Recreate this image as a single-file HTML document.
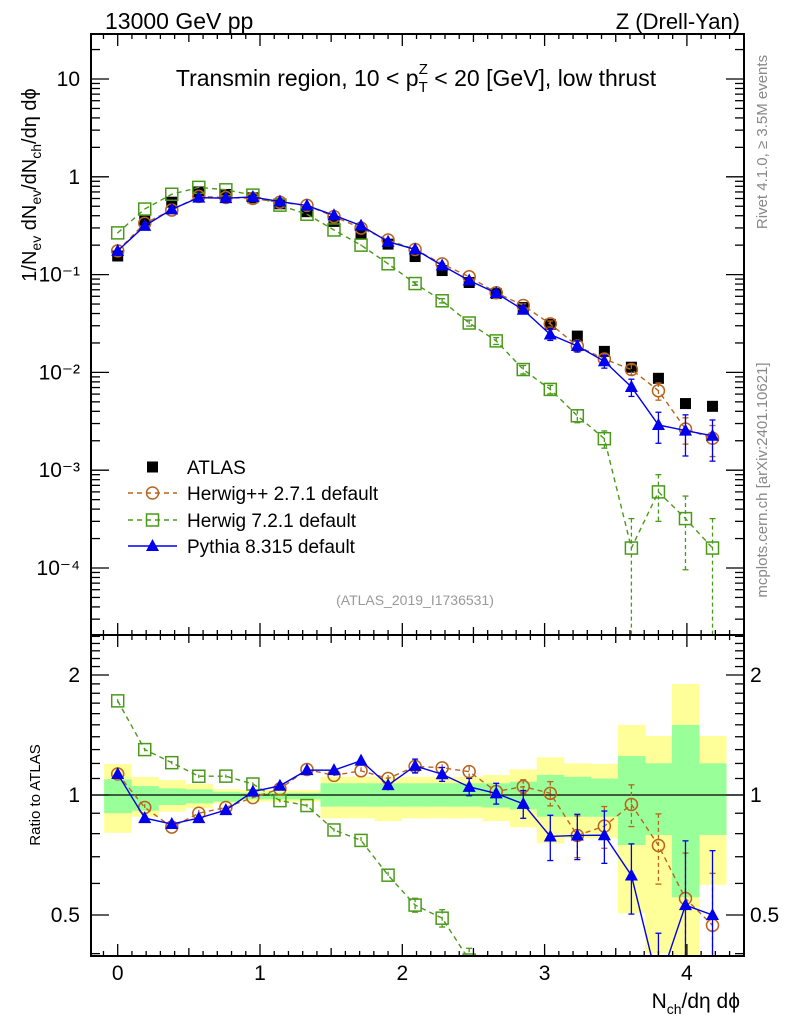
<!DOCTYPE html>
<html><head><meta charset="utf-8">
<style>
html,body{margin:0;padding:0;background:#fff;width:786px;height:1024px;overflow:hidden;}
svg{display:block;font-family:"Liberation Sans",sans-serif;overflow:hidden;}
</style></head>
<body>
<svg id="c" width="786" height="1024" viewBox="0 0 786 1024" xmlns="http://www.w3.org/2000/svg">
<defs>
<clipPath id="clipMain"><rect x="91" y="34" width="653" height="601"/></clipPath>
<clipPath id="clipRat"><rect x="91" y="635" width="653" height="321"/></clipPath>
</defs>
<g id="bands" clip-path="url(#clipRat)"></g>
<line x1="91" x2="744" y1="795" y2="795" stroke="#000" stroke-width="1.2"/>
<g id="series"></g>
<g id="axes"></g>
<text x="105" y="29" font-size="23">13000 GeV pp</text>
<text x="740" y="29" font-size="22" text-anchor="end">Z (Drell-Yan)</text>
<text x="416" y="86" font-size="23" text-anchor="middle">Transmin region, 10 &lt; p<tspan font-size="15" dy="6">T</tspan><tspan font-size="15" dx="-9" dy="-18">Z</tspan><tspan dy="12"> &lt; 20 [GeV], low thrust</tspan></text>
<text transform="translate(36,185) rotate(-90)" font-size="20" text-anchor="middle">1/N<tspan font-size="14" dy="5">ev</tspan><tspan dy="-5"> dN</tspan><tspan font-size="14" dy="5">ev</tspan><tspan dy="-5">/dN</tspan><tspan font-size="14" dy="5">ch</tspan><tspan dy="-5">/dη dϕ</tspan></text>
<text transform="translate(40,795) rotate(-90)" font-size="15" text-anchor="middle">Ratio to ATLAS</text>
<text x="740" y="1008" font-size="21" text-anchor="end">N<tspan font-size="14" dy="6">ch</tspan><tspan dy="-6">/dη dϕ</tspan></text>
<text transform="translate(767,142) rotate(-90)" font-size="15" fill="#888" text-anchor="middle">Rivet 4.1.0, ≥ 3.5M events</text>
<text transform="translate(767,480) rotate(-90)" font-size="15" fill="#888" text-anchor="middle">mcplots.cern.ch [arXiv:2401.10621]</text>
<text x="415" y="605" font-size="14" fill="#999" text-anchor="middle">(ATLAS_2019_I1736531)</text>
<g id="legend"></g>
</svg>
<script>
const xs=[0,0.19,0.38,0.57,0.76,0.95,1.14,1.33,1.52,1.71,1.90,2.09,2.28,2.47,2.66,2.85,3.04,3.23,3.42,3.61,3.80,3.99,4.18];
const atlas=[0.155,0.36,0.55,0.70,0.66,0.61,0.53,0.44,0.35,0.26,0.205,0.153,0.11,0.083,0.064,0.046,0.031,0.0235,0.0164,0.0113,0.0087,0.0048,0.0045];
const herwigpp=[0.175,0.335,0.457,0.63,0.614,0.601,0.549,0.510,0.392,0.299,0.2255,0.1805,0.1287,0.095,0.0653,0.0483,0.0313,0.0186,0.0137,0.0107,0.0065,0.00264,0.00212];
const herwig7=[0.267,0.468,0.663,0.78,0.736,0.65,0.513,0.414,0.286,0.20,0.129,0.081,0.054,0.032,0.021,0.0107,0.0067,0.0036,0.0021,0.00016,0.0006,0.00032,0.00016];
const pythia=[0.175,0.315,0.465,0.6125,0.605,0.622,0.559,0.508,0.404,0.317,0.217,0.181,0.124,0.087,0.0646,0.0437,0.0244,0.0186,0.0130,0.0071,0.0029,0.00254,0.00225];
const errHpp=[0.02,0.02,0.02,0.02,0.02,0.02,0.02,0.02,0.02,0.02,0.02,0.02,0.02,0.03,0.03,0.04,0.07,0.12,0.12,0.12,0.2,0.3,0.35];
const errH7=[0.01,0.01,0.01,0.01,0.01,0.01,0.01,0.01,0.01,0.02,0.02,0.04,0.05,0.07,0.08,0.1,0.1,0.15,0.2,1.0,0.5,0.7,1.0];
const errPy=[0.02,0.02,0.02,0.02,0.02,0.02,0.02,0.02,0.03,0.03,0.03,0.04,0.04,0.05,0.06,0.08,0.13,0.13,0.15,0.2,0.35,0.45,0.45];
const totUp=[1.196,1.11,1.09,1.066,1.035,1.029,1.029,1.029,1.111,1.111,1.111,1.111,1.111,1.111,1.123,1.16,1.243,1.201,1.196,1.498,1.406,1.899,1.406];
const totDn=[0.804,0.882,0.908,0.926,0.953,0.962,0.962,0.962,0.874,0.874,0.86,0.874,0.874,0.874,0.86,0.83,0.757,0.779,0.779,0.505,0.401,0.397,0.595];
const statUp=[1.095,1.053,1.039,1.033,1.019,1.013,1.013,1.013,1.07,1.07,1.07,1.07,1.07,1.07,1.07,1.08,1.123,1.111,1.10,1.253,1.201,1.498,1.201];
const statDn=[0.90,0.913,0.944,0.953,0.962,0.975,0.975,0.975,0.935,0.935,0.935,0.935,0.935,0.935,0.93,0.92,0.882,0.882,0.882,0.749,0.794,0.554,0.794];
const mainTicks=["10⁻⁴","10⁻³","10⁻²","10⁻¹","1","10"];
const ratioTicks=["0.5","1","2"];
const xTicks=["0","1","2","3","4"];

const NS="http://www.w3.org/2000/svg";
const L=91,R=744,MT=34,MB=635,RB=956;
const X=v=>117.7+v*142.3;
const Y=v=>79+(1-Math.log10(v))*97.8;
const YR=v=>795-Math.log10(v)*398.6;
function mk(tag,attrs,parent){const e=document.createElementNS(NS,tag);for(const k in attrs)e.setAttribute(k,attrs[k]);parent.appendChild(e);return e;}
const bands=document.getElementById('bands');
const ser=document.getElementById('series');
const axes=document.getElementById('axes');
const hw=0.095;
const clampY=(y,lo,hi)=>Math.max(lo,Math.min(hi,y));
xs.forEach((x,i)=>{
  const yt=clampY(YR(totUp[i]),MB,RB),yb=clampY(YR(totDn[i]),MB,RB);
  const a=mk('rect',{x:X(x-hw),y:yt,width:X(x+hw)-X(x-hw)+0.5,height:yb-yt,fill:'#ffff99'},bands);
  
  
});
xs.forEach((x,i)=>{
  const yt=clampY(YR(statUp[i]),MB,RB),yb=clampY(YR(statDn[i]),MB,RB);
  const b=mk('rect',{x:X(x-hw),y:yt,width:X(x+hw)-X(x-hw)+0.5,height:yb-yt,fill:'#99ff99'},bands);
  
  
});
function marker(g,type,cx,cy,color){
  let e;
  if(type==='sq') e=mk('rect',{x:cx-5.5,y:cy-5.5,width:11,height:11,fill:'#000'},g);
  else if(type==='circ') e=mk('circle',{cx:cx,cy:cy,r:6,fill:'none',stroke:color,'stroke-width':1.5},g);
  else if(type==='osq') e=mk('rect',{x:cx-6,y:cy-6,width:12,height:12,fill:'none',stroke:color,'stroke-width':1.5},g);
  else e=mk('polygon',{points:`${cx},${cy-7} ${cx-6.5},${cy+5} ${cx+6.5},${cy+5}`,fill:color},g);
  return e;
}
function drawSeries(name,vals,errs,color,dash,type,ratio){
  const clip=ratio?'url(#clipRat)':'url(#clipMain)';
  const top=ratio?MB:MT,bot=ratio?RB:MB;
  const g=mk('g',{'clip-path':clip},ser);
  
  
  const yv=i=>ratio?vals[i]/atlas[i]:vals[i];
  const Yf=v=>clampY((ratio?YR:Y)(v),top-20,bot+20);
  if(errs){
    xs.forEach((x,i)=>{
      const v=yv(i),e=errs[i];
      const lo=Math.max(v*(1-e),1e-9),hi=v*(1+e);
      const l=mk('line',{x1:X(x),x2:X(x),y1:Yf(hi),y2:Yf(lo),stroke:color,'stroke-width':1.3},g);
      if(dash)l.setAttribute('stroke-dasharray','4,3');
      
      
      if(e>0.03){
        mk('line',{x1:X(x)-3,x2:X(x)+3,y1:Yf(hi),y2:Yf(hi),stroke:color,'stroke-width':1.3},g);
        if(lo>1e-6) mk('line',{x1:X(x)-3,x2:X(x)+3,y1:Yf(lo),y2:Yf(lo),stroke:color,'stroke-width':1.3},g);
      }
    });
    const pts=xs.map((x,i)=>X(x)+','+(ratio?YR:Y)(yv(i))).join(' ');
    const pl=mk('polyline',{points:pts,fill:'none',stroke:color,'stroke-width':1.4},g);
    if(dash)pl.setAttribute('stroke-dasharray','5,4');
    
    
  }
  xs.forEach((x,i)=>{
    const py=(ratio?YR:Y)(yv(i));
    if(py<top-10||py>bot+10)return;
    const m=marker(g,type,X(x),py,color);
    
    
  });
}
[false,true].forEach(r=>{
  if(!r) drawSeries('atlas',atlas,null,'#000',false,'sq',false);
  drawSeries('herwig-7',herwig7,errH7,'#4a9a1a',true,'osq',r);
  drawSeries('herwigpp',herwigpp,errHpp,'#b8641f',true,'circ',r);
  drawSeries('pythia',pythia,errPy,'#0000ee',false,'tri',r);
});
[[MT,MB],[MB,RB]].forEach(([t,b])=>{
  const f=mk('rect',{x:L,y:t,width:R-L,height:b-t,fill:'none',stroke:'#000','stroke-width':2},axes);
  
  
});
for(let k=-1;k<=44;k++){
  const v=k/10,px=X(v);if(px<L||px>R)continue;
  const len=k%10===0?12:(k%5===0?8:5);
  [[MT,1],[MB,-1],[MB,1],[RB,-1]].forEach(([y0,d])=>mk('line',{x1:px,x2:px,y1:y0,y2:y0+d*len,stroke:'#000','stroke-width':1.3},axes));
}
xTicks.forEach((t,i)=>{
  const e=mk('text',{x:X(+t),y:980,'font-size':21,'text-anchor':'middle'},axes);e.textContent=t;
  
  
});
for(let d=-5;d<=1;d++){
  for(let m=1;m<=9;m++){
    const v=m*Math.pow(10,d),py=Y(v);if(py<MT||py>MB)continue;
    const len=m===1?18:9;
    mk('line',{x1:L,x2:L+len,y1:py,y2:py,stroke:'#000','stroke-width':1.3},axes);
    mk('line',{x1:R,x2:R-len,y1:py,y2:py,stroke:'#000','stroke-width':1.3},axes);
  }
}
mainTicks.forEach((t,i)=>{
  const d=i-4;
  const e=mk('text',{x:80,y:Y(Math.pow(10,d))+7,'font-size':21,'text-anchor':'end'},axes);e.textContent=t;
  
  
});
for(let k=3;k<=25;k++){
  const v=k/10,py=YR(v);if(py<MB||py>RB)continue;
  const len=(k===5||k===10||k===20)?18:9;
  mk('line',{x1:L,x2:L+len,y1:py,y2:py,stroke:'#000','stroke-width':1.3},axes);
  mk('line',{x1:R,x2:R-len,y1:py,y2:py,stroke:'#000','stroke-width':1.3},axes);
}
ratioTicks.forEach(t=>{
  const a=mk('text',{x:80,y:YR(+t)+7,'font-size':21,'text-anchor':'end'},axes);a.textContent=t;
  
  
  const b=mk('text',{x:750,y:YR(+t)+7,'font-size':21},axes);b.textContent=t;
  
  
});
const leg=document.getElementById('legend');
const items=[['ATLAS','sq','#000',null],['Herwig++ 2.7.1 default','circ','#b8641f','5,4'],['Herwig 7.2.1 default','osq','#4a9a1a','5,4'],['Pythia 8.315 default','tri','#0000ee','']];
const ly=[467,493,520,546];
items.forEach((it,i)=>{
  const g=mk('g',{},leg);
  
  
  if(it[3]!==null){const l=mk('line',{x1:128,x2:177,y1:ly[i],y2:ly[i],stroke:it[2],'stroke-width':1.4},g);if(it[3])l.setAttribute('stroke-dasharray',it[3]);}
  marker(g,it[1],152.5,ly[i],it[2]);
  const t=mk('text',{x:187,y:ly[i]+7,'font-size':19},g);t.textContent=it[0];
});
</script>
</body></html>
